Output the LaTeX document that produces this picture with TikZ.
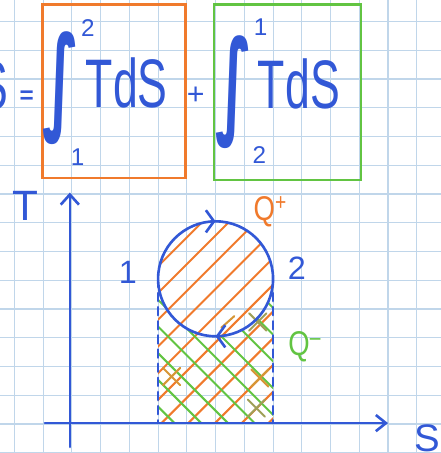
\documentclass[tikz,border=0pt]{standalone}
\usepackage{fontspec}
\setmainfont{Liberation Sans}
\newfontfamily\intfont{DejaVu Sans}
\usetikzlibrary{arrows.meta,decorations.markings}

\definecolor{inkblue}{RGB}{50,88,214}
\definecolor{inkorange}{RGB}{240,122,44}
\definecolor{inkgreen}{RGB}{98,196,66}
\definecolor{inkolive}{RGB}{158,160,88}
\definecolor{inkbrown}{RGB}{214,150,54}
\definecolor{gridblue}{RGB}{192,214,234}

\newcommand\fsz[1]{\fontsize{#1}{#1}\selectfont}

\tikzset{
  ink/.style={inkblue, line width=2.6pt, line cap=round, line join=round},
  lbl/.style={text=inkblue, inner sep=0pt},
  frame/.style={line width=2.4pt},
  hatch/.style={line width=2pt, line cap=round},
  dashes/.style={dash pattern=on 8pt off 6pt},
}

\begin{document}
\begin{tikzpicture}
  \useasboundingbox (-0.5,-1.01) rectangle (14.84,14.75);
  \draw[gridblue, line width=1.1pt] (-0.5,-1.01) grid (14.84,14.75);

  % formula
  \node[lbl, font=\fsz{68}] (lhs) at (-0.73,11.76) {\scalebox{0.65}[1]{S}};
  \node[lbl, font=\bfseries\fsz{24}] (eq) at (0.43,11.37) {=};
  \draw[frame, inkorange] (0.98,8.56) rectangle (5.96,14.6);
  \node[lbl, font=\intfont\bfseries\fsz{60}] (int1) at (1.62,11.69) {\scalebox{1}[1.9]{∫}};
  \node[lbl, font=\fsz{24}] (top1) at (2.56,13.77) {2};
  \node[lbl, font=\fsz{24}] (bot1) at (2.2,9.29) {1};
  \node[lbl, font=\fsz{68}] (tds1) at (3.91,11.86) {\scalebox{0.65}[1]{TdS}};
  \node[lbl, font=\fsz{30}] (plus) at (6.31,11.41) {+};
  \draw[frame, inkgreen] (6.94,8.49) rectangle (12.05,14.6);
  \node[lbl, font=\intfont\bfseries\fsz{60}] (int2) at (7.65,11.55) {\scalebox{1}[1.9]{∫}};
  \node[lbl, font=\fsz{24}] (top2) at (8.57,13.81) {1};
  \node[lbl, font=\fsz{24}] (bot2) at (8.52,9.36) {2};
  \node[lbl, font=\fsz{68}] (tds2) at (9.9,11.83) {\scalebox{0.65}[1]{TdS}};

  % T-S diagram
  \coordinate (O) at (1.93,0.03);
  \coordinate (Tbeg) at (1.93,-0.8);
  \coordinate (Tend) at (1.93,8.05);
  \coordinate (Sbeg) at (1.06,0.03);
  \coordinate (Send) at (13.0,0.03);
  \coordinate (p1) at (5,5.05);
  \coordinate (p2) at (9,5.05);

  \begin{scope}
    \clip (5,0) -- (p1) arc[start angle=180,end angle=0,radius=2] -- (9,0) -- cycle;
    \foreach \k in {-5,...,8}
      \draw[hatch,inkorange] (5.09-0.93*\k,0) -- ++(8,8);
  \end{scope}
  \begin{scope}
    \clip (5,0) -- (p1) arc[start angle=180,end angle=360,radius=2] -- (9,0) -- cycle;
    \foreach \k in {0,...,9}
      \draw[hatch,inkgreen] (5.6+0.93*\k,0) -- ++(-6,6);
  \end{scope}
  \foreach \x/\y/\c in {5.47/1.65/inkbrown, 8.54/1.6/inkbrown, 8.42/0.55/inkolive, 8.47/3.55/inkolive}
    \draw[hatch,\c] (\x-0.3,\y-0.3) -- (\x+0.3,\y+0.3) (\x-0.3,\y+0.3) -- (\x+0.3,\y-0.3);
  \draw[hatch,inkbrown] (7.2,3.35) -- (7.65,3.75);

  \draw[ink, postaction={decorate}, decoration={markings,
      mark=at position 0.25 with {\arrow{Straight Barb[length=8pt,width=22pt]}},
      mark=at position 0.75 with {\arrow{Straight Barb[length=8pt,width=22pt]}}}]
    (p2) arc[start angle=360,end angle=0,radius=2];
  \draw[ink, dashes] (p1) -- (p1 |- O);
  \draw[ink, dashes] (p2) -- (p2 |- O);

  \draw[ink, -{Straight Barb[length=10pt,width=18pt]}] (Tbeg) -- (Tend);
  \draw[ink, -{Straight Barb[length=10pt,width=16pt]}] (Sbeg) -- (Send);

  \node[lbl, font=\fsz{42}] (tlab) at (0.37,7.58) {T};
  \node[lbl, font=\fsz{38}] (slab) at (14.38,-0.5) {S};
  \node[lbl, font=\fsz{32}] (one) at (3.95,5.29) {1};
  \node[lbl, font=\fsz{32}] (two) at (9.83,5.43) {2};
  \node[lbl, text=inkorange, font=\fsz{34}] (qplus) at (8.9,7.4) {\scalebox{0.8}[1]{Q\textsuperscript{+}}};
  \node[lbl, text=inkgreen, font=\fsz{34}] (qminus) at (10.1,2.7) {\scalebox{0.8}[1]{Q\textsuperscript{--}}};
\end{tikzpicture}
\end{document}
